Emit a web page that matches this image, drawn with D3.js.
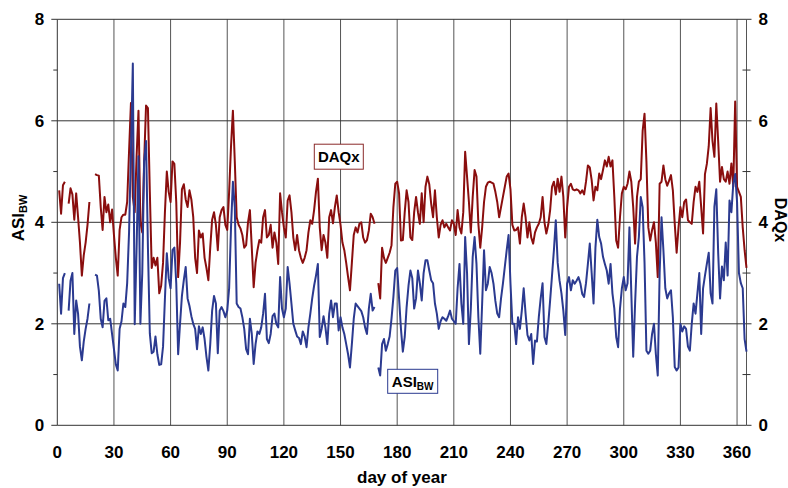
<!DOCTYPE html>
<html>
<head>
<meta charset="utf-8">
<script src="https://cdn.jsdelivr.net/npm/d3@7"></script>
<style>
  html, body { margin: 0; padding: 0; background: #fff; }
  svg { display: block; font-family: "Liberation Sans", Arial, sans-serif; }
</style>
</head>
<body>
<svg id="chart" width="788" height="488"></svg>
<script>
// Daily series, day of year 1..365 (null = missing day)
const daqx = [
  4.63,4.17,4.73,4.80,null,4.37,4.67,4.55,4.05,4.57,
  4.10,3.60,2.95,3.35,3.60,3.95,4.40,null,null,4.95,
  4.93,4.92,4.30,3.85,4.50,4.20,4.35,4.00,4.25,3.75,
  3.30,2.95,3.85,4.10,4.15,4.15,4.40,5.40,6.35,4.50,
  4.20,5.30,6.20,4.00,3.80,5.20,6.30,6.25,4.60,3.10,
  3.30,3.15,3.30,2.60,2.75,3.20,4.20,5.00,4.60,4.40,
  5.20,5.15,4.40,2.92,3.60,4.65,4.75,4.45,4.30,4.63,
  4.45,4.10,3.30,3.00,3.84,3.70,3.78,3.30,3.10,2.86,
  3.50,4.05,4.20,3.95,3.45,4.10,4.24,4.30,3.95,3.85,
  4.60,5.50,6.20,5.20,4.10,3.95,3.88,3.75,3.50,3.55,
  4.00,4.24,3.50,2.72,3.20,3.45,3.65,3.60,4.10,4.24,
  3.70,3.75,3.95,3.50,3.80,3.60,3.18,4.57,4.20,3.90,
  3.70,4.43,4.53,4.20,3.70,3.45,3.75,3.45,3.30,3.20,
  3.30,3.45,3.80,4.04,3.97,4.24,4.60,4.86,3.90,3.45,
  3.75,3.60,3.30,4.10,4.24,3.98,4.30,4.53,4.20,3.95,
  3.60,3.45,3.20,2.92,2.66,3.20,3.75,3.90,3.80,3.97,
  4.00,3.70,3.60,3.65,3.84,4.17,4.10,3.97,null,2.80,
  2.50,3.50,3.30,3.20,3.30,3.40,3.55,4.30,4.76,4.80,
  4.57,3.64,3.65,4.20,4.63,4.40,3.70,3.65,4.20,4.50,
  4.20,3.97,4.57,4.00,4.70,4.90,4.75,4.37,4.10,4.63,
  4.10,3.70,3.95,4.04,3.90,3.97,3.90,3.84,4.04,3.97,
  3.75,4.24,3.90,3.78,4.20,5.39,4.90,4.40,3.80,4.50,
  5.03,4.90,3.97,3.50,3.90,4.40,4.70,4.78,4.80,4.78,
  4.76,4.60,4.40,4.10,4.30,4.50,4.70,4.90,4.96,4.65,
  3.95,3.84,3.85,3.90,3.58,4.10,4.37,4.10,3.70,4.00,
  3.70,3.58,3.80,3.90,3.97,4.10,4.50,4.00,3.78,3.95,
  4.24,4.70,4.80,4.55,4.86,4.60,4.90,4.50,3.70,4.30,
  4.70,4.76,4.65,4.63,4.65,4.63,4.57,4.63,4.55,4.80,
  5.12,5.08,4.83,4.43,4.70,4.63,4.96,4.85,5.03,5.22,
  5.10,5.29,5.10,5.22,4.50,3.64,3.50,4.10,4.57,4.70,
  4.65,4.76,5.00,4.80,4.30,3.58,4.50,4.80,4.85,5.80,
  6.14,5.20,3.90,3.64,3.85,4.00,3.60,2.92,4.76,4.80,
  5.12,4.85,4.72,4.82,4.93,4.63,3.97,3.40,3.90,4.30,
  4.10,4.40,4.45,4.04,4.00,3.97,4.40,4.70,4.60,4.80,
  4.30,3.78,4.95,5.15,5.50,6.25,5.60,5.29,6.34,5.60,
  4.80,5.09,4.85,4.80,5.00,4.76,5.16,4.70,6.38,4.70,
  4.60,4.50,3.90,3.45,3.10
];

const asiBw = [
  2.79,2.20,2.90,3.00,null,2.26,2.85,3.00,1.80,2.46,
  2.20,1.55,1.28,1.65,1.90,2.10,2.40,null,null,2.97,
  2.95,2.65,2.10,1.93,2.45,2.50,2.07,2.10,1.80,1.50,
  1.20,1.08,1.90,2.05,2.40,2.33,2.80,3.80,5.40,7.13,
  1.99,3.50,5.30,2.00,3.00,5.20,5.60,3.50,1.81,1.42,
  1.45,1.75,1.40,1.19,1.20,1.55,2.50,3.39,2.90,2.70,
  3.45,3.50,2.80,1.40,2.00,2.55,2.86,3.12,2.50,2.35,
  2.15,2.00,1.90,1.50,1.95,1.80,1.93,1.70,1.35,1.08,
  1.60,2.26,2.55,2.40,1.42,2.26,2.33,2.25,2.13,2.26,
  2.70,3.90,4.80,4.30,2.40,2.33,2.30,2.13,1.90,1.50,
  1.40,2.10,1.80,1.21,1.60,1.85,1.80,1.93,2.20,2.59,
  1.70,1.62,1.80,2.15,2.20,2.00,1.93,2.92,2.30,2.13,
  2.30,3.12,2.79,2.40,2.00,1.87,1.75,1.72,1.60,1.85,
  1.75,1.54,1.93,2.20,2.50,2.75,2.95,3.18,1.74,1.90,
  2.15,1.93,1.60,2.20,2.46,2.13,2.40,2.40,1.87,2.13,
  1.93,1.80,1.60,1.40,1.14,1.60,2.10,2.40,2.35,2.30,
  2.25,2.13,1.93,1.80,2.30,2.59,2.26,2.33,null,1.14,
  0.98,1.60,1.70,1.47,1.60,1.75,2.10,2.53,3.05,3.10,
  2.50,1.90,1.45,1.74,2.33,2.75,3.05,2.90,2.30,2.50,
  3.05,2.80,2.46,3.00,3.25,3.25,3.05,2.86,2.80,2.40,
  2.20,1.90,2.05,2.13,2.10,2.06,2.15,2.26,2.10,2.05,
  2.00,2.70,3.18,2.40,2.00,3.71,3.00,1.60,2.30,3.32,
  3.71,3.18,2.13,1.41,2.40,3.45,2.66,2.79,3.12,3.00,
  2.79,2.45,2.20,2.13,2.50,2.79,3.12,3.45,3.75,2.80,
  2.00,2.00,1.60,2.13,1.90,2.26,2.70,2.20,1.78,1.67,
  1.80,1.21,1.67,1.65,2.13,2.50,2.80,1.74,1.60,2.00,
  2.46,2.95,3.45,4.04,3.20,2.85,2.60,2.26,1.78,2.79,
  2.92,2.66,2.86,2.79,2.85,2.92,2.80,2.59,2.53,2.80,
  3.18,3.58,3.00,2.40,3.50,4.05,3.71,3.58,3.32,3.18,
  3.05,2.79,3.18,2.60,2.30,1.74,1.54,2.30,2.70,2.92,
  2.66,2.80,3.90,2.60,1.35,2.40,3.32,3.71,4.50,4.30,
  3.20,1.47,1.41,1.47,1.80,2.00,1.40,0.98,3.00,4.10,
  3.45,2.70,2.50,2.60,2.66,2.13,1.15,1.08,1.14,2.00,
  1.85,1.95,1.90,1.55,1.47,2.00,2.40,2.20,2.60,3.00,
  1.80,2.70,2.95,3.18,3.40,2.60,2.40,4.31,4.65,3.40,
  2.50,3.13,2.86,3.60,2.95,4.43,4.20,4.76,4.95,4.40,
  3.00,2.80,2.70,1.70,1.45
];

const firstDay = 1;
const xTicks = [0, 30, 60, 90, 120, 150, 180, 210, 240, 270, 300, 330, 360];
const yTicks = [0, 2, 4, 6, 8];
const yMinorTicks = [1, 3, 5, 7];

const svg = d3.select("#chart");
const m = { left: 57.3, right: 746.5, top: 19.3, bottom: 425.3 };

const x = d3.scaleLinear().domain([0, 365]).range([m.left, m.right]);
const y = d3.scaleLinear().domain([0, 8]).range([m.bottom, m.top]);

const red = "#8a0e0e";
const blue = "#2b3a90";
const ink = "#000";

// vertical grid
svg.append("g").selectAll("line")
  .data(xTicks.filter(d => d > 0))
  .join("line")
  .attr("x1", d => x(d)).attr("x2", d => x(d))
  .attr("y1", y(0)).attr("y2", y(8))
  .attr("stroke", "#555").attr("stroke-width", 1);

// horizontal grid
svg.append("g").selectAll("line")
  .data(yTicks)
  .join("line")
  .attr("x1", x(0)).attr("x2", x(365))
  .attr("y1", d => y(d)).attr("y2", d => y(d))
  .attr("stroke", "#333").attr("stroke-width", 1);

// left axis
const leftAxis = svg.append("g").attr("transform", `translate(${x(0)},0)`);
leftAxis.append("line").attr("y1", y(0)).attr("y2", y(8)).attr("stroke", "#333");
leftAxis.selectAll(".maj").data(yTicks).join("line")
  .attr("x1", -6).attr("x2", 0).attr("y1", d => y(d)).attr("y2", d => y(d)).attr("stroke", "#333");
leftAxis.selectAll(".min").data(yMinorTicks).join("line")
  .attr("x1", -4).attr("x2", 0).attr("y1", d => y(d)).attr("y2", d => y(d)).attr("stroke", "#333");
leftAxis.selectAll("text").data(yTicks).join("text")
  .attr("x", -13).attr("y", d => y(d)).attr("dy", "0.35em")
  .attr("text-anchor", "end").attr("font-size", 17).attr("font-weight", "bold")
  .attr("fill", ink).text(d => d);

// right axis
const rightAxis = svg.append("g").attr("transform", `translate(${x(365)},0)`);
rightAxis.append("line").attr("y1", y(0)).attr("y2", y(8)).attr("stroke", "#555");
rightAxis.selectAll(".maj").data(yTicks).join("line")
  .attr("x1", 0).attr("x2", 5).attr("y1", d => y(d)).attr("y2", d => y(d)).attr("stroke", "#333");
rightAxis.selectAll(".min").data(yMinorTicks).join("line")
  .attr("x1", -4).attr("x2", 4).attr("y1", d => y(d)).attr("y2", d => y(d)).attr("stroke", "#333");
rightAxis.selectAll("text").data(yTicks).join("text")
  .attr("x", 12).attr("y", d => y(d)).attr("dy", "0.35em")
  .attr("text-anchor", "start").attr("font-size", 17).attr("font-weight", "bold")
  .attr("fill", ink).text(d => d);

// x tick labels
svg.append("g").selectAll("text").data(xTicks).join("text")
  .attr("x", d => x(d)).attr("y", 457.5)
  .attr("text-anchor", "middle").attr("font-size", 17).attr("font-weight", "bold")
  .attr("fill", ink).text(d => d);

// axis titles
svg.append("text")
  .attr("x", (m.left + m.right) / 2).attr("y", 483)
  .attr("text-anchor", "middle").attr("font-size", 17).attr("font-weight", "bold")
  .attr("fill", ink).text("day of year");

const yTitle = svg.append("text")
  .attr("transform", `translate(24,218) rotate(-90)`)
  .attr("text-anchor", "middle").attr("font-size", 17).attr("font-weight", "bold")
  .attr("fill", ink);
yTitle.append("tspan").text("ASI");
yTitle.append("tspan").attr("font-size", 11).attr("dy", 3).text("BW");

svg.append("text")
  .attr("transform", `translate(775,220) rotate(90)`)
  .attr("text-anchor", "middle").attr("font-size", 16).attr("font-weight", "bold")
  .attr("fill", ink).text("DAQx");

// series lines
const line = d3.line()
  .defined(d => d.v != null)
  .x(d => x(d.day))
  .y(d => y(d.v));

const toPoints = arr => arr.map((v, i) => ({ day: firstDay + i, v }));

svg.append("path")
  .datum(toPoints(daqx))
  .attr("fill", "none").attr("stroke", red).attr("stroke-width", 2)
  .attr("stroke-linejoin", "round")
  .attr("d", line);

svg.append("path")
  .datum(toPoints(asiBw))
  .attr("fill", "none").attr("stroke", blue).attr("stroke-width", 2)
  .attr("stroke-linejoin", "round")
  .attr("d", line);

// series labels
function boxLabel(cx, cy, w, h, stroke, build) {
  const g = svg.append("g");
  g.append("rect")
    .attr("x", cx - w / 2).attr("y", cy - h / 2).attr("width", w).attr("height", h)
    .attr("fill", "#fff").attr("stroke", stroke).attr("stroke-width", 1);
  const t = g.append("text")
    .attr("x", cx).attr("y", cy).attr("dy", "0.36em")
    .attr("text-anchor", "middle").attr("font-size", 15).attr("font-weight", "bold")
    .attr("fill", ink);
  build(t);
}

boxLabel(338.8, 156.7, 49, 25, "#8a2a2a", t => t.text("DAQx"));
boxLabel(412.7, 381.3, 50, 24, "#2b3a90", t => {
  t.append("tspan").text("ASI");
  t.append("tspan").attr("font-size", 10).attr("dy", 3).text("BW");
});
</script>
</body>
</html>
